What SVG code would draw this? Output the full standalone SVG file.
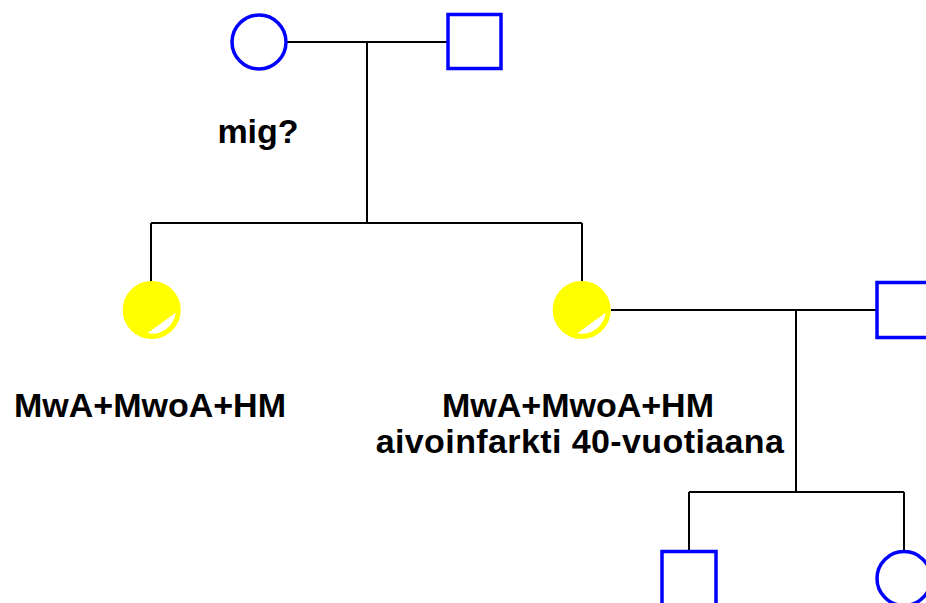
<svg xmlns="http://www.w3.org/2000/svg" width="926" height="603" viewBox="0 0 926 603">
<style>
.m{fill:#fff;stroke:#0000ff;stroke-width:3.5}
.f{fill:#fff;stroke:#0000ff;stroke-width:3.5}
.aff{fill:#ffff00;stroke:#ffff00;stroke-width:2}
.wedge{fill:#fff;stroke:none}
.ln{fill:none;stroke:#000;stroke-width:2}
.t{font-family:"Liberation Sans",Arial,sans-serif;font-weight:bold;font-size:34px;fill:#000;text-anchor:middle}
</style>
<rect width="926" height="603" fill="#fff"/>
<g id="connectors">
<path class="ln" d="M286,42 H447 M367,42 V223 M151,223 H582 M151,223 V282 M582,223 V282"/>
<path class="ln" d="M611,310 H877 M796,310 V492 M689,492 H904 M689,492 V551 M904,492 V551"/>
</g>
<g id="grandmother"><circle class="f" cx="259" cy="42" r="27"/></g>
<g id="grandfather"><rect class="m" x="448" y="14.5" width="53" height="54"/></g>
<g id="daughter1">
<circle class="aff" cx="151.7" cy="310" r="28"/>
<path class="wedge" d="M175.7,312.7 A24,24 0 0 1 147.3,333.3 Z"/>
</g>
<g id="daughter2">
<circle class="aff" cx="581.7" cy="310" r="28"/>
<path class="wedge" d="M605.7,312.7 A24,24 0 0 1 577.3,333.3 Z"/>
</g>
<g id="spouse"><rect class="m" x="877" y="282.5" width="54" height="55"/></g>
<g id="grandson"><rect class="m" x="662" y="551.5" width="54" height="55"/></g>
<g id="granddaughter"><circle class="f" cx="904" cy="578.5" r="27"/></g>
<g id="labels">
<text class="t" x="258" y="143">mig?</text>
<text class="t" x="150" y="417">MwA+MwoA+HM</text>
<text class="t" x="578" y="417">MwA+MwoA+HM</text>
<text class="t" x="580" y="453" letter-spacing="0.4">aivoinfarkti 40-vuotiaana</text>
</g>
</svg>
